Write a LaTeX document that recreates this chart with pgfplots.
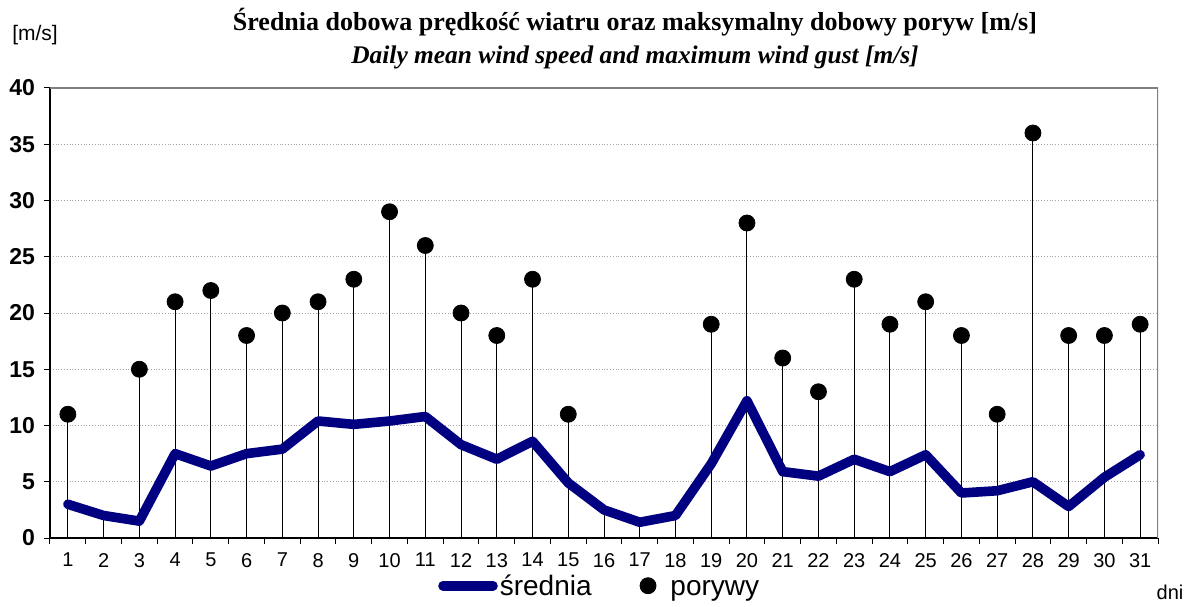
\documentclass[border=0pt]{standalone}
\usepackage{pgfplots}
\pgfplotsset{compat=1.18}
\usepackage{fontspec}
\setmainfont{Liberation Serif}
\newfontfamily\arial{Liberation Sans}
\definecolor{meancol}{RGB}{0,0,128}
\pgfplotsset{
  meanleg/.style={legend image code/.code={\draw[#1, line cap=round] (2pt,0pt) -- (27pt,0pt);}},
  dotleg/.style={legend image code/.code={\draw[#1] plot coordinates {(4pt,0pt)}; \path (0pt,0pt) (8pt,0pt);}},
}
\begin{document}
\begin{tikzpicture}
\begin{axis}[
  at={(0pt,0pt)}, anchor=origin,
  scale only axis, width=554pt, height=225pt,
  xmin=0.5, xmax=31.5, ymin=0, ymax=40,
  axis x line*=bottom, axis y line*=left,
  axis line style={-, black, line width=0.6pt},
  xtick={1,...,31}, major x tick style={draw=none},
  minor xtick={0.5,1.5,...,31.5},
  ytick={0,5,...,40},
  tick align=outside, major tick length=3pt, minor tick length=3pt,
  tick style={black, line width=0.5pt},
  ymajorgrids, grid style={gray!70, densely dotted, line width=0.4pt},
  /pgf/number format/assume math mode=true,
  xticklabel style={font=\arial\fontsize{10}{12}\selectfont, yshift=-1pt},
  yticklabel style={font=\arial\bfseries\fontsize{11.5}{13}\selectfont, xshift=-1pt},
  legend columns=2,
  legend style={draw=none, fill=none, at={(0.497,-0.106)}, anchor=center,
    font=\arial\fontsize{14}{16}\selectfont, column sep=0pt},
  legend cell align=left,
]
\addplot[ycomb, black, line width=0.5pt, forget plot] coordinates {
(1,3.0)(2,2.0)(3,1.5)(4,7.5)(5,6.4)(6,7.5)(7,7.9)(8,10.4)(9,10.1)(10,10.4)
(11,10.8)(12,8.3)(13,7.0)(14,8.6)(15,4.9)(16,2.5)(17,1.4)(18,2.0)(19,6.6)(20,12.2)
(21,5.9)(22,5.5)(23,7.0)(24,5.9)(25,7.4)(26,4.0)(27,4.2)(28,5.0)(29,2.8)(30,5.4)(31,7.4)};
\addplot[ycomb, black, line width=0.5pt, forget plot] coordinates {
(1,11)(3,15)(4,21)(5,22)(6,18)(7,20)(8,21)(9,23)(10,29)(11,26)(12,20)(13,18)(14,23)(15,11)
(19,19)(20,28)(21,16)(22,13)(23,23)(24,19)(25,21)(26,18)(27,11)(28,36)(29,18)(30,18)(31,19)};
\addplot[meancol, line width=4.8pt, line join=round, line cap=round, meanleg] coordinates {
(1,3.0)(2,2.0)(3,1.5)(4,7.5)(5,6.4)(6,7.5)(7,7.9)(8,10.4)(9,10.1)(10,10.4)
(11,10.8)(12,8.3)(13,7.0)(14,8.6)(15,4.9)(16,2.5)(17,1.4)(18,2.0)(19,6.6)(20,12.2)
(21,5.9)(22,5.5)(23,7.0)(24,5.9)(25,7.4)(26,4.0)(27,4.2)(28,5.0)(29,2.8)(30,5.4)(31,7.4)};
\addlegendentry{\hspace*{-1pt}\strut średnia\rule{22pt}{0pt}}
\addplot[only marks, mark=*, mark size=4pt, black, dotleg] coordinates {
(1,11)(3,15)(4,21)(5,22)(6,18)(7,20)(8,21)(9,23)(10,29)(11,26)(12,20)(13,18)(14,23)(15,11)
(19,19)(20,28)(21,16)(22,13)(23,23)(24,19)(25,21)(26,18)(27,11)(28,36)(29,18)(30,18)(31,19)};
\addlegendentry{\rule{5pt}{0pt}\strut porywy}
\draw[gray, line width=0.8pt] (rel axis cs:0,1) -- (rel axis cs:1,1) -- (rel axis cs:1,0);
\end{axis}
\node[font=\bfseries\fontsize{13}{15}\selectfont] at (292.5pt,258pt) {Średnia dobowa prędkość wiatru oraz maksymalny dobowy poryw [m/s]};
\node[font=\bfseries\itshape\fontsize{12.7}{15}\selectfont] at (292.5pt,240.5pt) {Daily mean wind speed and maximum wind gust [m/s]};
\node[font=\arial\fontsize{10.5}{12}\selectfont] at (-7.5pt,251.5pt) {[m/s]};
\node[font=\arial\fontsize{10}{12}\selectfont] at (560pt,-27pt) {dni};
\pgfresetboundingbox
\path (-25pt,-34pt) rectangle (571pt,269pt);
\end{tikzpicture}
\end{document}
